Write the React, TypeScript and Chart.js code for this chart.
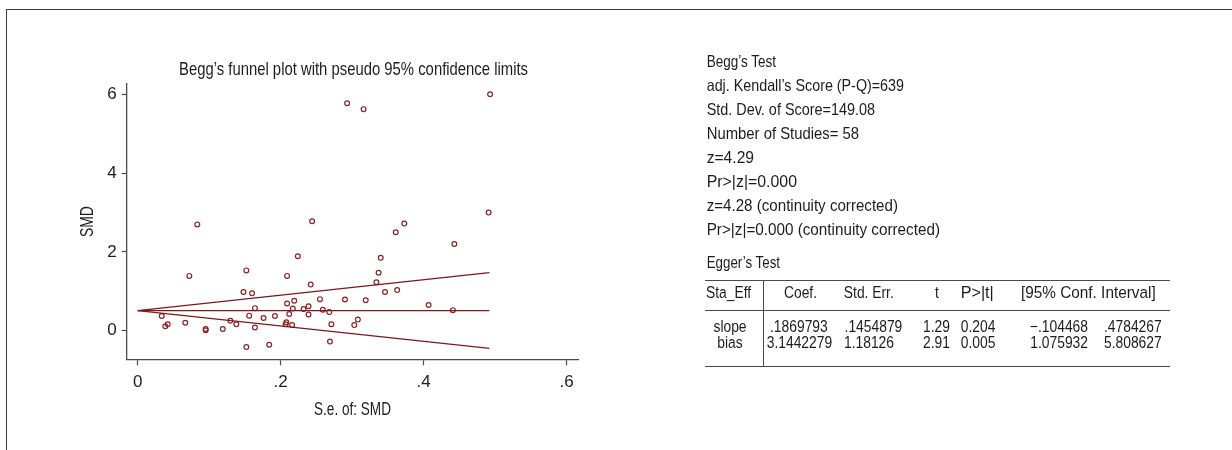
import React, { useEffect, useRef } from "react";
import { Chart, registerables } from "chart.js";

Chart.register(...registerables);

// ---- data ----
const studySe = [
  0.293, 0.316, 0.493, 0.0834, 0.244, 0.361, 0.373, 0.491, 0.443, 0.224,
  0.340, 0.0722, 0.152, 0.209, 0.337, 0.242, 0.334, 0.148, 0.160, 0.346,
  0.363, 0.0336, 0.0386, 0.042, 0.0666, 0.0951, 0.0951, 0.119, 0.1296, 0.138,
  0.152, 0.156, 0.164, 0.164, 0.176, 0.184, 0.192, 0.207, 0.208, 0.209,
  0.212, 0.216, 0.217, 0.219, 0.232, 0.239, 0.239, 0.255, 0.259, 0.268,
  0.271, 0.269, 0.290, 0.308, 0.303, 0.319, 0.407, 0.441,
];
const studySmd = [
  5.78, 5.63, 6.01, 2.70, 2.78, 2.50, 2.72, 3.00, 2.20, 1.89,
  1.85, 1.39, 1.53, 1.39, 1.47, 1.17, 1.23, 0.98, 0.95, 0.98,
  1.03, 0.37, 0.11, 0.16, 0.20, 0.04, 0.01, 0.04, 0.25, 0.16,
  -0.42, 0.38, 0.57, 0.08, 0.32, -0.36, 0.37, 0.16, 0.21, 0.69,
  0.42, 0.14, 0.56, 0.76, 0.55, 0.62, 0.41, 0.80, 0.53, 0.47,
  0.16, -0.28, 0.79, 0.28, 0.14, 0.77, 0.65, 0.52,
];
const funnelSe = [0, 0.492];
const funnelUpper = [0.51, 1.474];
const funnelCenter = [0.51, 0.51];
const funnelLower = [0.51, -0.454];

const xTickValues = [0, 0.2, 0.4, 0.6];
const xTickLabels = ["0", ".2", ".4", ".6"];
const yTickValues = [0, 2, 4, 6];
const yTickLabels = ["0", "2", "4", "6"];

const chartTitle = "Begg\u2019s funnel plot with pseudo 95% confidence limits";
const xTitle = "S.e. of: SMD";
const yTitle = "SMD";

const beggLines = [
  "Begg\u2019s Test",
  "adj. Kendall\u2019s Score (P-Q)=639",
  "Std. Dev. of Score=149.08",
  "Number of Studies= 58",
  "z=4.29",
  "Pr>|z|=0.000",
  "z=4.28 (continuity corrected)",
  "Pr>|z|=0.000 (continuity corrected)",
];
const eggerTitle = "Egger\u2019s Test";
const eggerHeader = ["Sta_Eff", "Coef.", "Std. Err.", "t", "P>|t|", "[95% Conf. Interval]"];
const slopeRow = ["slope", ".1869793", ".1454879", "1.29", "0.204", "\u2212.104468", ".4784267"];
const biasRow = ["bias", "3.1442279", "1.18126", "2.91", "0.005", "1.075932", "5.808627"];

// ---- layout / style ----
const FONT = "'Liberation Sans', Arial, sans-serif";
const TEXT = "#1f1c1d";
const AXIS = "#4a4a4a";
const LINE = "#7a1a1a";
const PT = "#862626";
const SX = 0.84;

type Anchor = "start" | "middle" | "end";
type Place = { x: number; a: Anchor; sx?: number };

const beggEnds = [776, 904, 875, 859, 754, 797, 898, 940];
const headerPlace: Place[] = [
  { x: 706, a: "start" }, { x: 800.5, a: "middle" }, { x: 868.8, a: "middle" },
  { x: 937, a: "middle" }, { x: 960.7, a: "start", sx: 0.98 }, { x: 1021, a: "start", sx: 0.93 },
];
const slopePlace: Place[] = [
  { x: 730, a: "middle" }, { x: 770, a: "start" }, { x: 902.3, a: "end" }, { x: 950, a: "end" },
  { x: 960.7, a: "start" }, { x: 1088, a: "end" }, { x: 1161.7, a: "end" },
];
const biasPlace: Place[] = [
  { x: 730, a: "middle" }, { x: 766.7, a: "start" }, { x: 894, a: "end" }, { x: 950, a: "end" },
  { x: 960.7, a: "start" }, { x: 1088, a: "end" }, { x: 1161.7, a: "end" },
];

function Fit({ text, x0, x1, y, size = 16.5 }: { text: string; x0: number; x1: number; y: number; size?: number }) {
  return (
    <text x={x0} y={y} textLength={x1 - x0} lengthAdjust="spacingAndGlyphs" fontSize={size} fontFamily={FONT} fill={TEXT}>
      {text}
    </text>
  );
}

function Cell({ text, p, y, size = 16.5 }: { text: string; p: Place; y: number; size?: number }) {
  return (
    <text
      transform={`translate(${p.x}, ${y}) scale(${p.sx ?? SX}, 1)`}
      x={0}
      y={0}
      textAnchor={p.a}
      fontSize={size}
      fontFamily={FONT}
      fill={TEXT}
    >
      {text}
    </text>
  );
}

export default function App() {
  const ref = useRef<HTMLCanvasElement | null>(null);

  useEffect(() => {
    if (!ref.current) return;
    const tickFont = { family: FONT, size: 17, weight: "normal" as const };
    const lineDs = (ys: number[]) => ({
      type: "line" as const,
      data: funnelSe.map((x, i) => ({ x, y: ys[i] })),
      borderColor: LINE,
      borderWidth: 1.3,
      pointRadius: 0,
      fill: false,
      tension: 0,
      showLine: true,
    });
    const chart = new Chart(ref.current, {
      type: "scatter",
      data: {
        datasets: [
          lineDs(funnelUpper) as any,
          lineDs(funnelCenter) as any,
          lineDs(funnelLower) as any,
          {
            type: "scatter",
            data: studySe.map((x, i) => ({ x, y: studySmd[i] })),
            pointRadius: 2.4,
            borderWidth: 1.2,
            borderColor: PT,
            backgroundColor: "rgba(255,255,255,0)",
          },
        ],
      },
      options: {
        animation: false,
        responsive: false,
        maintainAspectRatio: false,
        layout: { padding: { top: 84, left: 0, right: 62, bottom: 0 } },
        plugins: {
          legend: { display: false },
          tooltip: { enabled: false },
          title: { display: false },
        },
        scales: {
          x: {
            type: "linear",
            min: -0.0154,
            max: 0.616,
            afterBuildTicks: (s: any) => {
              s.ticks = xTickValues.map((v) => ({ value: v }));
            },
            afterFit: (s: any) => {
              s.height = 90.7;
            },
            ticks: {
              autoSkip: false,
              maxRotation: 0,
              padding: 7,
              color: TEXT,
              font: tickFont,
              callback: (_v: any, i: number) => xTickLabels[i],
            },
            grid: { drawOnChartArea: false, drawTicks: true, tickLength: 6, tickColor: AXIS, tickWidth: 1.2 },
            border: { display: true, color: AXIS, width: 1.3 },
          },
          y: {
            type: "linear",
            min: -0.73,
            max: 6.27,
            afterBuildTicks: (s: any) => {
              s.ticks = yTickValues.map((v) => ({ value: v }));
            },
            afterFit: (s: any) => {
              s.width = 126.7;
            },
            ticks: {
              autoSkip: false,
              padding: 5,
              color: TEXT,
              font: tickFont,
              callback: (_v: any, i: number) => yTickLabels[i],
            },
            grid: { drawOnChartArea: false, drawTicks: true, tickLength: 5, tickColor: AXIS, tickWidth: 1.2 },
            border: { display: true, color: AXIS, width: 1.3 },
          },
        },
      },
    });
    return () => chart.destroy();
  }, []);

  return (
    <div
      style={{
        position: "fixed",
        left: 0,
        top: 0,
        width: 1232,
        height: 450,
        background: "#fff",
        overflow: "hidden",
      }}
    >
      <canvas
        ref={ref}
        width={640}
        height={450}
        style={{ position: "absolute", left: 0, top: 0, width: 640, height: 450 }}
      />
      <svg
        width={1232}
        height={450}
        style={{ position: "absolute", left: 0, top: 0, pointerEvents: "none" }}
      >
        {/* frame */}
        <line x1={6} y1={9.5} x2={1232} y2={9.5} stroke="#3a3a3a" strokeWidth={1} />
        <line x1={6.5} y1={9} x2={6.5} y2={450} stroke="#3a3a3a" strokeWidth={1} />

        {/* chart titles */}
        <Fit text={chartTitle} x0={179} x1={528} y={75} size={18.5} />
        <Fit text={xTitle} x0={314} x1={391} y={414.5} size={17.5} />
        <g transform="translate(92.5, 221.6) rotate(-90)">
          <Fit text={yTitle} x0={-15.5} x1={15.5} y={0} size={17.5} />
        </g>

        {/* Begg's test */}
        {beggLines.map((t, i) => (
          <Fit key={"b" + i} text={t} x0={706.7} x1={beggEnds[i]} y={66.7 + 24 * i} />
        ))}
        <Fit text={eggerTitle} x0={706.7} x1={780} y={268} />

        {/* Egger's table */}
        <line x1={705} y1={280.5} x2={1170} y2={280.5} stroke={AXIS} strokeWidth={1} />
        <line x1={705} y1={310.5} x2={1170} y2={310.5} stroke={AXIS} strokeWidth={1} />
        <line x1={705} y1={366.5} x2={1170} y2={366.5} stroke={AXIS} strokeWidth={1} />
        <line x1={763.5} y1={280} x2={763.5} y2={367} stroke={AXIS} strokeWidth={1} />
        {eggerHeader.map((t, i) => (
          <Cell key={"h" + i} text={t} p={headerPlace[i]} y={297.5} />
        ))}
        {slopeRow.map((t, i) => (
          <Cell key={"s" + i} text={t} p={slopePlace[i]} y={332} />
        ))}
        {biasRow.map((t, i) => (
          <Cell key={"r" + i} text={t} p={biasPlace[i]} y={347.5} />
        ))}
      </svg>
    </div>
  );
}
